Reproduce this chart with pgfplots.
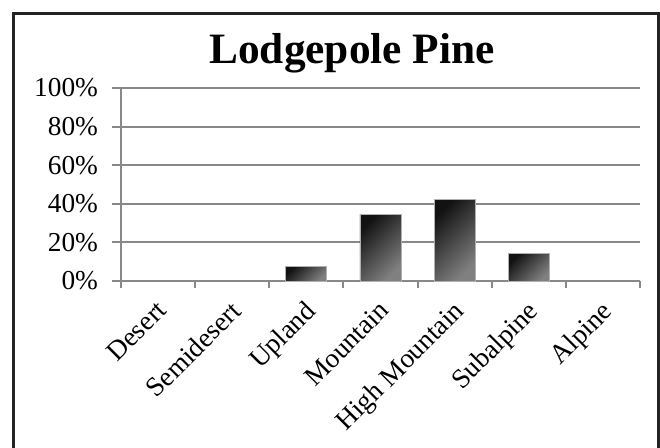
\documentclass[border=0pt]{standalone}
\usepackage{fontspec}
\setmainfont{Liberation Serif}
\usepackage{pgfplots}
\usepackage{pgfplotstable}
\pgfplotsset{compat=1.18}
\definecolor{gridgray}{RGB}{136,136,136}
\definecolor{bordergray}{RGB}{176,176,176}
\definecolor{framecol}{RGB}{35,35,35}
\definecolor{bardark}{RGB}{18,18,18}
\definecolor{barlight}{RGB}{128,128,128}
\pgfplotstableread{
x y
0 0
1 0
2 7.7
3 34.6
4 42.1
5 14.1
6 0
}\datatable
\begin{document}
\begin{tikzpicture}[x=0.75pt,y=0.75pt]
\useasboundingbox (0,0) rectangle (660,447);
\draw[framecol, line width=2.25pt] (13.5,433.5) rectangle (658.5,-20);
\node[anchor=base, font=\fontsize{32.5}{36}\selectfont\bfseries] at (352,383) {Lodgepole Pine};
\begin{axis}[
  at={(90.75pt,124.5pt)}, anchor=south west,
  scale only axis, width=389.25pt, height=144.75pt,
  xmin=-0.5, xmax=6.5, ymin=0, ymax=100,
  axis x line*=bottom, axis y line*=left,
  axis line style={draw=gridgray, line width=1.5pt, -},
  tick align=outside, tick pos=left,
  xtick={0,...,6},
  xticklabels={Desert,Semidesert,Upland,Mountain,High Mountain,Subalpine,Alpine},
  minor xtick={-0.5,0.5,...,6.5},
  major x tick style={draw=none},
  minor x tick style={draw=gridgray, line width=1.5pt},
  ytick={0,20,40,60,80,100},
  yticklabels={0\%,20\%,40\%,60\%,80\%,100\%},
  ytick style={draw=gridgray, line width=1.5pt},
  major tick length=6.75pt, minor tick length=5.25pt,
  ymajorgrids, grid style={draw=gridgray, line width=1.5pt},
  yticklabel style={font=\fontsize{20.5}{24}\selectfont, xshift=-7pt},
  xticklabel style={rotate=45, anchor=north east, font=\fontsize{20.5}{24}\selectfont, xshift=-3pt},
  /pgf/number format/assume math mode=true,
]
\pgfplotsinvokeforeach{0,...,6}{
\addplot[ybar, bar width=30.75pt, draw=bordergray, line width=0.6pt, top color=bardark, bottom color=barlight, shading angle=45, restrict x to domain=#1:#1, restrict y to domain=0.001:1000] table[x=x,y=y]{\datatable};
}
\end{axis}
\end{tikzpicture}
\end{document}
